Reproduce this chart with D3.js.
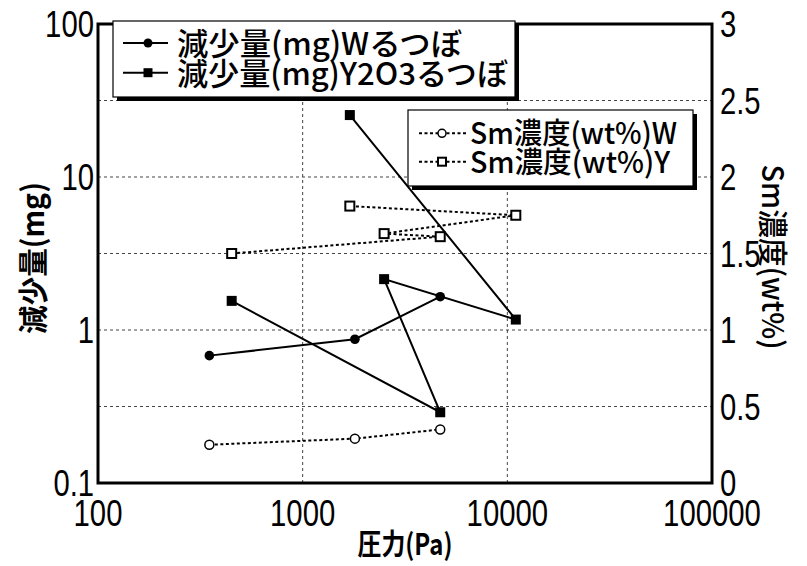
<!DOCTYPE html>
<html><head><meta charset="utf-8">
<script src="https://cdn.jsdelivr.net/npm/d3@7"></script>
<style>html,body{margin:0;padding:0;background:#fff;}svg{display:block;}</style>
</head><body>
<svg id="chart" width="807" height="566"></svg>
<script>
// ---- data ----
const pressureW = [350, 1800, 4700];
const lossW = [0.68, 0.87, 1.65];
const pressureY = [450, 4700, 2500, 11000, 1700];
const lossY = [1.55, 0.29, 2.15, 1.17, 25.4];
const smW = [0.25, 0.29, 0.35];
const smY = [1.5, 1.61, 1.63, 1.75, 1.81];
const xTicks = [100, 1000, 10000, 100000];
const xTickLabels = ["100", "1000", "10000", "100000"];
const yLTicks = [0.1, 1, 10, 100];
const yLTickLabels = ["0.1", "1", "10", "100"];
const yRTicks = [0, 0.5, 1, 1.5, 2, 2.5, 3];
const yRTickLabels = ["0", "0.5", "1", "1.5", "2", "2.5", "3"];
const seriesNames = ["減少量(mg)Wるつぼ", "減少量(mg)Y2O3るつぼ", "Sm濃度(wt%)W", "Sm濃度(wt%)Y"];
const xTitle = "圧力(Pa)", yLTitle = "減少量(mg)", yRTitle = "Sm濃度(wt%)";

// ---- layout ----
const L = 98, R = 712, T = 24, B = 483;
const svg = d3.select("#chart");
const x = d3.scaleLog().domain([100, 100000]).range([L, R]);
const yL = d3.scaleLog().domain([0.1, 100]).range([B, T]);
const yR = d3.scaleLinear().domain([0, 3]).range([B, T]);
const CJK = "'Noto Sans CJK JP', sans-serif";
const NUM = "'Liberation Sans Narrow', 'Liberation Sans', Arial, sans-serif";
const FS = 36;
function numLen(s){let w=0;for(const c of s){w+= (c==='.')?8:16.3;}return w;}

// grid
const g = svg.append("g");
g.selectAll("line.vg").data([1000, 10000]).enter().append("line")
  .attr("x1", d => x(d)).attr("x2", d => x(d)).attr("y1", T).attr("y2", B)
  .attr("stroke", "#444").attr("stroke-width", 1).attr("stroke-dasharray", "3,3");
g.selectAll("line.hg").data([0.5, 1, 1.5, 2, 2.5]).enter().append("line")
  .attr("x1", L).attr("x2", R).attr("y1", d => yR(d)).attr("y2", d => yR(d))
  .attr("stroke", "#444").attr("stroke-width", 1).attr("stroke-dasharray", "3,3");

// Sm series (right axis)
const lineR = d3.line().x(d => x(d[0])).y(d => yR(d[1]));
const lineL = d3.line().x(d => x(d[0])).y(d => yL(d[1]));
const smWd = pressureW.map((p, i) => [p, smW[i]]);
const smYd = pressureY.map((p, i) => [p, smY[i]]);
const lossWd = pressureW.map((p, i) => [p, lossW[i]]);
const lossYd = pressureY.map((p, i) => [p, lossY[i]]);

[smWd, smYd].forEach(d => svg.append("path").datum(d).attr("d", lineR)
  .attr("fill", "none").attr("stroke", "#000").attr("stroke-width", 2).attr("stroke-dasharray", "3,2.5"));
svg.selectAll("circle.smw").data(smWd).enter().append("circle")
  .attr("cx", d => x(d[0])).attr("cy", d => yR(d[1])).attr("r", 4.5)
  .attr("fill", "#fff").attr("stroke", "#000").attr("stroke-width", 1.5);
svg.selectAll("rect.smy").data(smYd).enter().append("rect")
  .attr("x", d => x(d[0]) - 4.5).attr("y", d => yR(d[1]) - 4.5).attr("width", 9).attr("height", 9)
  .attr("fill", "#fff").attr("stroke", "#000").attr("stroke-width", 2);

// loss series (left axis)
[lossWd, lossYd].forEach(d => svg.append("path").datum(d).attr("d", lineL)
  .attr("fill", "none").attr("stroke", "#000").attr("stroke-width", 2));
svg.selectAll("circle.lw").data(lossWd).enter().append("circle")
  .attr("cx", d => x(d[0])).attr("cy", d => yL(d[1])).attr("r", 4.8).attr("fill", "#000");
svg.selectAll("rect.ly").data(lossYd).enter().append("rect")
  .attr("x", d => x(d[0]) - 5).attr("y", d => yL(d[1]) - 5).attr("width", 10).attr("height", 10).attr("fill", "#000");

// frame
svg.append("rect").attr("x", L).attr("y", T).attr("width", R - L).attr("height", B - T)
  .attr("fill", "none").attr("stroke", "#000").attr("stroke-width", 3);

// tick labels
function tl(sel){ return sel.attr("font-family", NUM).attr("font-size", FS).attr("fill", "#000")
  .attr("lengthAdjust", "spacingAndGlyphs").attr("textLength", d => numLen(d.s)); }
tl(svg.selectAll("text.xt").data(xTicks.map((v, i) => ({v, s: xTickLabels[i]}))).enter().append("text")
  .attr("x", d => x(d.v)).attr("y", 526).attr("text-anchor", "middle").text(d => d.s));
tl(svg.selectAll("text.ylt").data(yLTicks.map((v, i) => ({v, s: yLTickLabels[i]}))).enter().append("text")
  .attr("x", 94).attr("y", d => yL(d.v) + 13).attr("text-anchor", "end").text(d => d.s));
tl(svg.selectAll("text.yrt").data(yRTicks.map((v, i) => ({v, s: yRTickLabels[i]}))).enter().append("text")
  .attr("x", 720).attr("y", d => yR(d.v) + 13).attr("text-anchor", "start").text(d => d.s));

// axis titles
svg.append("text").attr("x", 405).attr("y", 555).attr("text-anchor", "middle")
  .attr("font-family", CJK).attr("font-size", 29).attr("font-weight", "bold")
  .attr("textLength", 95).attr("lengthAdjust", "spacingAndGlyphs").text(xTitle);
svg.append("text").attr("transform", "translate(44,258) rotate(-90)").attr("text-anchor", "middle")
  .attr("font-family", CJK).attr("font-size", 30).attr("font-weight", "bold")
  .attr("textLength", 152).attr("lengthAdjust", "spacingAndGlyphs").text(yLTitle);
svg.append("text").attr("transform", "translate(762,257) rotate(90)").attr("text-anchor", "middle")
  .attr("font-family", CJK).attr("font-size", 30).attr("font-weight", 500)
  .attr("textLength", 185).attr("lengthAdjust", "spacingAndGlyphs").text(yRTitle);

// legends
function legendBox(x0, y0, w, h){
  svg.append("rect").attr("x", x0 + 4).attr("y", y0 + 4).attr("width", w).attr("height", h).attr("fill", "#000");
  svg.append("rect").attr("x", x0).attr("y", y0).attr("width", w).attr("height", h)
    .attr("fill", "#fff").attr("stroke", "#000").attr("stroke-width", 1.2);
}
legendBox(113, 21, 402, 76);
const leg1 = [{y: 43, name: seriesNames[0], len: 285, m: "c"}, {y: 72.7, name: seriesNames[1], len: 331, m: "s"}];
leg1.forEach(d => {
  svg.append("line").attr("x1", 123).attr("x2", 168).attr("y1", d.y).attr("y2", d.y).attr("stroke", "#000").attr("stroke-width", 2);
  if (d.m === "c") svg.append("circle").attr("cx", 148).attr("cy", d.y).attr("r", 4.5).attr("fill", "#000");
  else svg.append("rect").attr("x", 143.5).attr("y", d.y - 4.5).attr("width", 9).attr("height", 9).attr("fill", "#000");
  svg.append("text").attr("x", 177).attr("y", d.y + 12).attr("font-family", CJK).attr("font-size", 31)
    .attr("font-weight", 500)
    .attr("textLength", d.len).attr("lengthAdjust", "spacingAndGlyphs").text(d.name);
});

legendBox(408, 110, 285, 76);
const leg2 = [{y: 133.3, name: seriesNames[2], len: 207, m: "c"}, {y: 161.7, name: seriesNames[3], len: 200, m: "s"}];
leg2.forEach(d => {
  svg.append("line").attr("x1", 419).attr("x2", 466).attr("y1", d.y).attr("y2", d.y)
    .attr("stroke", "#000").attr("stroke-width", 2).attr("stroke-dasharray", "3,2.5");
  if (d.m === "c") svg.append("circle").attr("cx", 442).attr("cy", d.y).attr("r", 4).attr("fill", "#fff").attr("stroke", "#000").attr("stroke-width", 1.5);
  else svg.append("rect").attr("x", 438).attr("y", d.y - 4).attr("width", 8).attr("height", 8).attr("fill", "#fff").attr("stroke", "#000").attr("stroke-width", 2);
  svg.append("text").attr("x", 470).attr("y", d.y + 11).attr("font-family", CJK).attr("font-size", 29)
    .attr("font-weight", 500)
    .attr("textLength", d.len).attr("lengthAdjust", "spacingAndGlyphs").text(d.name);
});
</script>
</body></html>
